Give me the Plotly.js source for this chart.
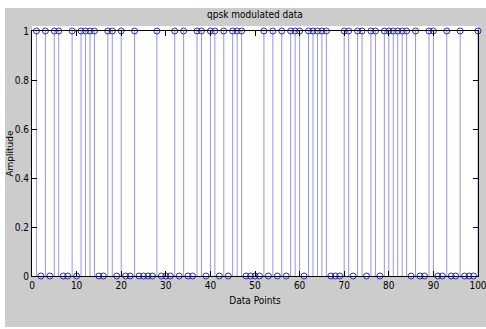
<!DOCTYPE html>
<html>
<head>
<meta charset="utf-8">
<script src="https://cdn.plot.ly/plotly-3.0.1.min.js"></script>
<style>
  html, body { margin: 0; padding: 0; background: #ffffff; width: 486px; height: 329px; overflow: hidden; }
  #chart { position: absolute; left: 5px; top: 8px; width: 486px; height: 319px; }
</style>
</head>
<body>
<div id="chart"></div>
<script>
// QPSK modulated data (binary amplitude), data points 1..100
const amplitude = [
  1,0,1,0,1,1,0,0,1,0,
  1,1,1,1,0,0,1,1,0,1,
  0,0,1,0,0,0,0,1,0,0,
  0,1,0,1,0,0,1,1,0,1,
  1,0,1,0,1,1,1,0,0,0,
  0,1,0,1,0,1,0,1,1,1,
  0,1,1,1,1,1,0,0,0,1,
  1,0,1,1,0,1,1,0,1,1,
  1,1,1,1,0,1,0,0,1,1,
  0,0,1,0,0,1,0,0,0,1
];
const dataPoints = amplitude.map((_, i) => i + 1);
const xTicks = [0, 10, 20, 30, 40, 50, 60, 70, 80, 90, 100];
const xTickLabels = ['0', '10', '20', '30', '40', '50', '60', '70', '80', '90', '100'];
const yTicks = [0, 0.2, 0.4, 0.6, 0.8, 1];
const yTickLabels = ['0', '0.2', '0.4', '0.6', '0.8', '1'];

// stems: vertical segments from baseline to each value
const stemX = [], stemY = [];
dataPoints.forEach((x, i) => { stemX.push(x, x, null); stemY.push(0, amplitude[i], null); });

const narrow = 'Liberation Sans Narrow, DejaVu Sans Condensed, Arial Narrow, sans-serif';

const traces = [
  {
    x: stemX, y: stemY, type: 'scatter', mode: 'lines',
    line: { color: 'rgba(60,60,220,0.55)', width: 1 },
    hoverinfo: 'skip', showlegend: false, cliponaxis: false
  },
  {
    x: dataPoints, y: amplitude, type: 'scatter', mode: 'markers',
    marker: { symbol: 'circle-open', size: 6, color: '#2a2ad0', line: { width: 1, color: '#2a2ad0' } },
    showlegend: false, cliponaxis: false
  }
];

const layout = {
  width: 486, height: 319,
  paper_bgcolor: '#cccccc',
  plot_bgcolor: '#ffffff',
  margin: { l: 27, r: 13, t: 23, b: 51 },
  showlegend: false,
  title: {
    text: 'qpsk modulated data',
    font: { family: narrow, size: 10, color: '#000000' },
    x: 0.5, xref: 'paper', xanchor: 'center',
    y: 0.98, yref: 'container', yanchor: 'middle'
  },
  xaxis: {
    range: [0, 100],
    tickmode: 'array', tickvals: xTicks, ticktext: xTickLabels,
    ticks: 'inside', ticklen: 5, tickcolor: '#000000', tickwidth: 1,
    showline: true, linecolor: '#000000', linewidth: 1, mirror: 'ticks',
    showgrid: false, zeroline: false, automargin: false,
    tickfont: { family: narrow, size: 10, color: '#000000' },
    title: { text: 'Data Points', font: { family: narrow, size: 10, color: '#000000' }, standoff: 6 }
  },
  yaxis: {
    range: [0, 1],
    tickmode: 'array', tickvals: yTicks, ticktext: yTickLabels,
    ticks: 'inside', ticklen: 5, tickcolor: '#000000', tickwidth: 1,
    showline: true, linecolor: '#000000', linewidth: 1, mirror: 'ticks',
    showgrid: false, zeroline: false, automargin: false,
    tickfont: { family: narrow, size: 10, color: '#000000' },
    title: { text: 'Amplitude', font: { family: 'DejaVu Sans, sans-serif', size: 9, color: '#000000' }, standoff: 6 }
  },
  shapes: [
    { type: 'rect', xref: 'paper', yref: 'paper', x0: 0, x1: 1, y0: 1, y1: 1.02,
      fillcolor: '#ffffff', line: { width: 0 }, layer: 'below' }
  ]
};

Plotly.newPlot('chart', traces, layout, { displayModeBar: false, staticPlot: true });
</script>
</body>
</html>
